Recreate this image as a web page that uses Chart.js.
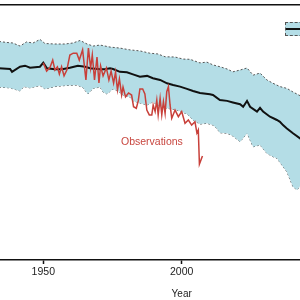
<!DOCTYPE html>
<html><head><meta charset="utf-8">
<script src="https://cdn.jsdelivr.net/npm/chart.js@4.4.1/dist/chart.umd.min.js"></script>
<style>
html,body{margin:0;padding:0;width:300px;height:300px;overflow:hidden;background:#fff;font-family:"Liberation Sans",Arial,sans-serif;}
#wrap{position:absolute;left:-120px;top:0;width:620px;height:300px;}
#obs{position:absolute;left:121px;top:136px;font-size:10.5px;line-height:11px;color:#c8463f;white-space:nowrap;}
#leg{position:absolute;left:285px;top:22px;width:30px;height:12px;background:rgb(180,221,230);border:1px dashed #555;}
#leg div{position:absolute;left:0;right:0;top:5px;height:2px;background:#111;}
</style></head><body>
<div id="wrap"><canvas id="c"></canvas></div>
<div id="leg"><div></div></div>
<div id="obs">Observations</div>
<script>
const xTickYears = [1900, 1950, 2000, 2050, 2100];

const obsYears = [1950.0,1951.2,1952.4,1953.4,1954.2,1955.1,1955.8,1956.6,1957.5,1958.5,1959.6,1960.8,1962.1,1963.0,1964.2,1965.4,1966.3,1967.1,1967.7,1968.5,1969.4,1970.1,1970.7,1971.6,1972.8,1973.7,1974.5,1975.4,1976.1,1976.8,1977.5,1978.3,1978.8,1979.7,1980.8,1981.9,1982.6,1983.6,1984.3,1984.9,1985.9,1986.7,1987.4,1988.3,1989.2,1989.7,1990.4,1991.0,1991.5,1992.2,1992.8,1993.4,1994.0,1994.6,1995.2,1995.8,1996.4,1997.6,1998.8,2000.0,2001.2,2002.4,2003.6,2004.8,2005.5,2006.0,2006.4,2007.5];
const obsValues = [7.73,7.41,7.55,7.84,7.45,7.57,7.29,7.58,7.22,7.45,8.04,8.11,8.11,7.84,8.24,7.06,8.31,7.53,8.04,7.06,7.96,6.94,7.61,7.22,7.53,7.06,7.41,6.94,7.37,6.67,7.10,6.47,6.78,6.40,6.55,6.47,6.01,5.95,6.24,6.71,6.71,6.51,5.88,5.69,5.69,6.08,5.82,6.27,5.69,6.34,5.69,6.21,5.75,6.60,6.80,6.08,5.56,5.88,5.62,5.82,5.36,5.49,5.29,5.42,4.98,5.10,3.76,4.08];

const meanYears = [1934.0,1938.0,1938.7,1941.6,1943.4,1945.2,1947.0,1948.8,1950.0,1951.3,1954.2,1956.8,1959.6,1962.5,1965.1,1966.9,1970.5,1972.3,1974.1,1975.2,1977.7,1980.2,1982.4,1984.9,1987.5,1989.6,1992.2,1994.7,1996.9,1999.4,2001.9,2004.1,2006.6,2010.2,2011.3,2013.8,2016.4,2018.5,2021.1,2022.2,2023.6,2024.7,2027.2,2028.3,2029.4,2031.9,2034.4,2035.5,2036.6,2038.0,2040.2,2043.0];
const meanValues = [7.52,7.49,7.38,7.58,7.62,7.54,7.56,7.58,7.74,7.52,7.48,7.48,7.54,7.62,7.58,7.52,7.48,7.48,7.52,7.49,7.38,7.36,7.28,7.19,7.22,7.13,7.06,6.93,6.86,6.80,6.71,6.63,6.55,6.50,6.47,6.27,6.24,6.18,6.11,6.01,6.24,6.01,5.82,5.97,5.82,5.62,5.49,5.42,5.29,5.16,4.97,4.75];

const upperYears = [1934.0,1936.9,1939.0,1941.6,1943.9,1946.3,1948.8,1950.6,1954.2,1957.8,1960.7,1963.3,1965.8,1968.0,1970.5,1974.1,1977.7,1981.3,1984.9,1988.5,1991.4,1994.0,1997.6,2000.5,2003.0,2006.6,2009.1,2011.3,2013.8,2016.4,2018.5,2021.1,2023.6,2025.8,2028.3,2030.8,2033.0,2035.5,2038.0,2040.2,2043.0];
const upperValues = [8.57,8.53,8.51,8.39,8.55,8.51,8.65,8.49,8.47,8.47,8.51,8.61,8.47,8.39,8.43,8.35,8.31,8.24,8.20,8.11,8.08,7.97,7.96,7.88,7.87,7.73,7.76,7.65,7.58,7.49,7.38,7.45,7.53,7.25,7.33,7.06,6.93,6.80,6.73,6.59,6.43];

const lowerYears = [1934.0,1938.0,1941.6,1943.0,1945.2,1948.8,1950.6,1954.2,1957.8,1962.2,1964.3,1966.1,1968.0,1970.5,1971.6,1973.0,1975.2,1977.0,1978.8,1981.3,1982.4,1984.9,1987.5,1989.6,1992.2,1994.7,1998.3,2001.9,2004.1,2006.6,2009.1,2011.3,2012.7,2013.8,2016.4,2018.5,2021.1,2023.6,2025.8,2028.3,2030.8,2033.0,2034.4,2036.6,2038.0,2040.2,2041.7,2043.0];
const lowerValues = [6.78,6.75,6.63,6.80,6.75,6.84,6.71,6.80,6.84,6.86,6.76,6.51,6.73,6.78,6.59,6.51,6.71,6.63,6.47,6.39,6.24,6.16,6.08,6.20,6.01,5.95,5.88,5.73,5.49,5.33,5.36,5.29,5.16,4.99,4.97,4.86,4.64,4.97,4.44,4.51,4.18,4.05,3.99,3.66,3.46,2.87,2.75,2.94];

const toXY = (xs, ys) => xs.map((x, i) => ({x: x, y: ys[i]}));
const FONT = '"Liberation Sans", Arial, sans-serif';
Chart.defaults.font.family = FONT;

new Chart(document.getElementById('c'), {
  type: 'line',
  data: {
    datasets: [
      {label: 'Observations', data: toXY(obsYears, obsValues), borderColor: '#c8403a', borderWidth: 1.5, pointRadius: 0, fill: false, tension: 0},
      {label: 'Model mean', data: toXY(meanYears, meanValues), borderColor: '#111', borderWidth: 2, pointRadius: 0, fill: false, tension: 0},
      {label: 'Model +1 s.d.', data: toXY(upperYears, upperValues), borderColor: '#555', borderWidth: 1, borderDash: [2, 2], pointRadius: 0, fill: '+1', backgroundColor: 'rgb(180,221,230)', tension: 0},
      {label: 'Model -1 s.d.', data: toXY(lowerYears, lowerValues), borderColor: '#555', borderWidth: 1, borderDash: [2, 2], pointRadius: 0, fill: false, tension: 0}
    ]
  },
  options: {
    responsive: true, maintainAspectRatio: false, animation: false,
    layout: {padding: {left: 24.9, right: 41.5, top: 5, bottom: 0}},
    plugins: {legend: {display: false}, tooltip: {enabled: false}},
    scales: {
      x: {
        type: 'linear', position: 'bottom', min: 1900, max: 2100,
        afterBuildTicks: (s) => { s.ticks = xTickYears.map(v => ({value: v})); },
        ticks: {font: {size: 10.5}, color: '#222', padding: 2, maxRotation: 0, callback: (v) => String(v)},
        grid: {drawOnChartArea: false, tickLength: 4, tickWidth: 1.5, tickColor: '#111'},
        border: {display: true, color: '#111', width: 1.5},
        title: {display: true, text: 'Year', font: {size: 10}, color: '#222', padding: {top: 7.4, bottom: 0}}
      },
      xTop: {
        type: 'linear', position: 'top', min: 1900, max: 2100,
        ticks: {display: false},
        grid: {drawOnChartArea: false, drawTicks: false},
        border: {display: true, color: '#111', width: 1.5}
      },
      y: {display: false, min: 0, max: 10}
    }
  }
});
</script>
</body></html>
